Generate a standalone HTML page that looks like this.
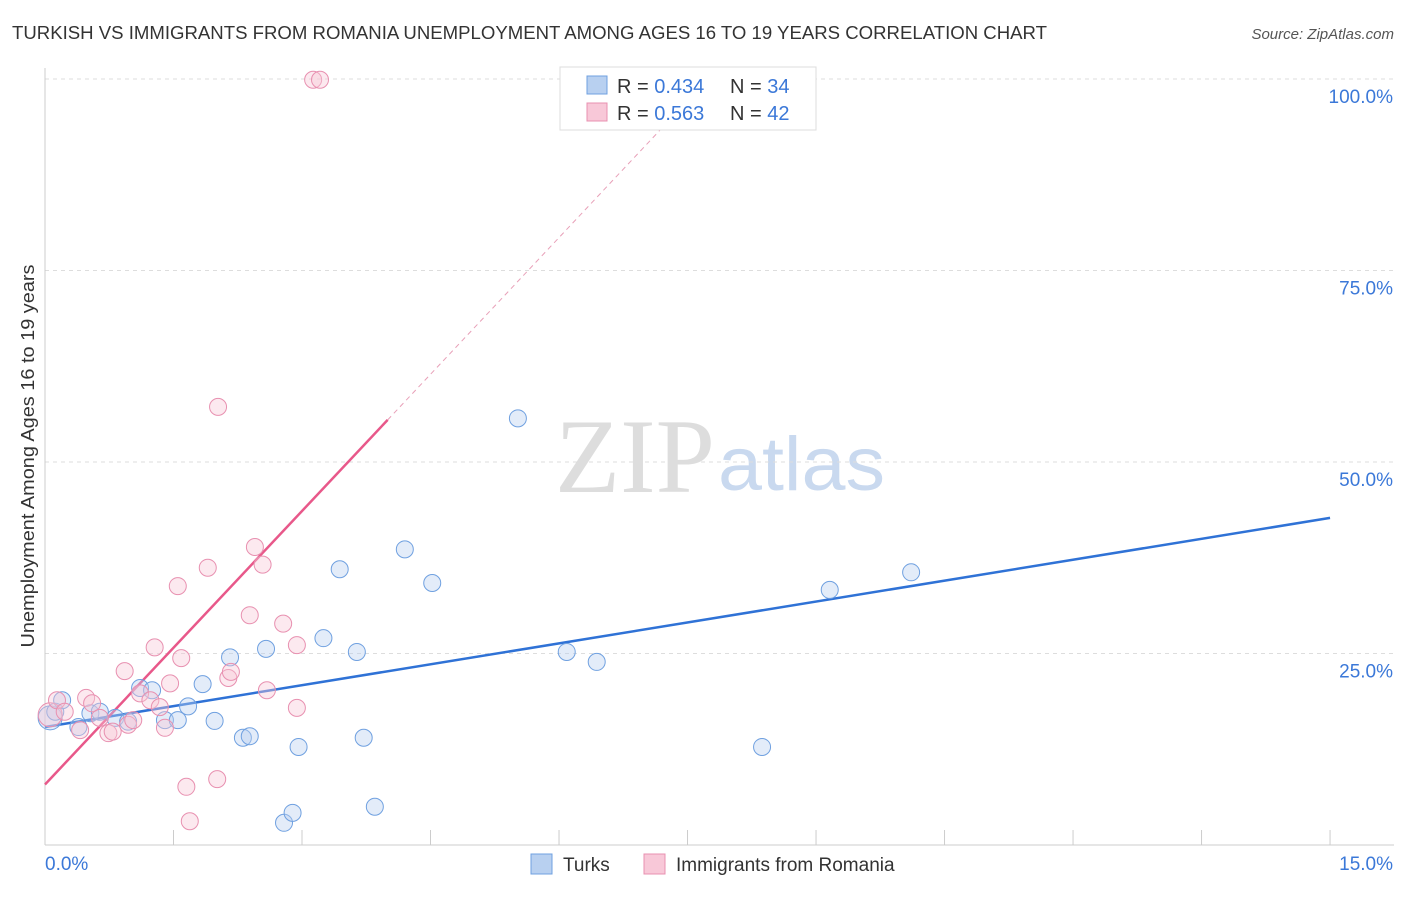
<!DOCTYPE html>
<html><head><meta charset="utf-8"><style>
body{margin:0;background:#fff;font-family:"Liberation Sans",sans-serif;}
</style></head><body>
<svg width="1406" height="892" font-family="Liberation Sans, sans-serif">
<text x="12" y="39" font-size="18" fill="#333" textLength="1035" lengthAdjust="spacingAndGlyphs">TURKISH VS IMMIGRANTS FROM ROMANIA UNEMPLOYMENT AMONG AGES 16 TO 19 YEARS CORRELATION CHART</text>
<text x="1394" y="39" font-size="15" fill="#555" font-style="italic" text-anchor="end">Source: ZipAtlas.com</text>
<text x="555" y="492" font-size="106" fill="#ddd" textLength="160" lengthAdjust="spacingAndGlyphs" font-family="Liberation Serif, serif">ZIP</text>
<text x="718" y="490" font-size="76" fill="#c9d9ef" textLength="167" lengthAdjust="spacingAndGlyphs">atlas</text>
<g id="grid"></g>
<g id="axes"></g>
<text transform="translate(34,456) rotate(-90)" font-size="18" fill="#333" text-anchor="middle" textLength="383" lengthAdjust="spacingAndGlyphs">Unemployment Among Ages 16 to 19 years</text>
<g id="lines"></g>
<g id="points"></g>
<g>
<rect x="560" y="67" width="256" height="63" fill="#fff" stroke="#ddd"/>
<rect x="587" y="76" width="20" height="18" fill="#b8d0f0" stroke="#6fa0e0"/>
<text x="617" y="93" font-size="20" fill="#333">R = <tspan fill="#3b78d8">0.434</tspan></text>
<text x="730" y="93" font-size="20" fill="#333">N = <tspan fill="#3b78d8">34</tspan></text>
<rect x="587" y="103" width="20" height="18" fill="#f8c8d8" stroke="#e890b0"/>
<text x="617" y="120" font-size="20" fill="#333">R = <tspan fill="#3b78d8">0.563</tspan></text>
<text x="730" y="120" font-size="20" fill="#333">N = <tspan fill="#3b78d8">42</tspan></text>
</g>
<g>
<rect x="531" y="854" width="21" height="20" fill="#b8d0f0" stroke="#6fa0e0"/>
<text x="563" y="871" font-size="19" fill="#333">Turks</text>
<rect x="644" y="854" width="21" height="20" fill="#f8c8d8" stroke="#e890b0"/>
<text x="676" y="871" font-size="19" fill="#333">Immigrants from Romania</text>
</g>
</svg>
<script>
const xTicks=[0,1.5,3,4.5,6,7.5,9,10.5,12,13.5,15];
const yTicks=[25,50,75,100];
const yTickLabels=["25.0%","50.0%","75.0%","100.0%"];
const turksX=[0.06,0.12,0.2,0.39,0.53,0.64,0.82,0.97,1.11,1.25,1.4,1.55,1.67,1.84,1.98,2.16,2.31,2.39,2.58,2.79,2.89,2.96,3.25,3.44,3.64,3.72,3.85,4.2,4.52,5.52,6.09,6.44,8.37,9.16,10.11];
const turksY=[16.6,17.4,18.9,15.4,17.2,17.4,16.6,16.1,20.5,20.2,16.3,16.3,18.1,21.0,16.2,24.5,14.0,14.2,25.6,2.9,4.2,12.8,27.0,36.0,25.2,14.0,5.0,38.6,34.2,55.7,25.2,23.9,12.8,33.3,35.6];
const romX=[0.06,0.14,0.23,0.41,0.48,0.55,0.64,0.74,0.79,0.93,0.97,1.03,1.11,1.23,1.28,1.34,1.4,1.46,1.55,1.59,1.65,1.69,1.9,2.01,2.02,2.14,2.17,2.39,2.45,2.54,2.59,2.78,2.94,2.94,3.13,3.21];
const romY=[17.0,18.9,17.4,15.0,19.2,18.5,16.6,14.6,14.8,22.7,15.7,16.3,19.8,18.9,25.8,18.0,15.3,21.1,33.8,24.4,7.6,3.1,36.2,8.6,57.2,21.8,22.6,30.0,38.9,36.6,20.2,28.9,26.1,17.9,99.9,99.9];
const blueFit=[15.4,1.82];
const pinkFit=[7.9,11.9];
const NS="http://www.w3.org/2000/svg";
const X=v=>45+v*85.67, Y=v=>845-v*7.66;
function mk(t,a,p){const e=document.createElementNS(NS,t);for(const k in a)e.setAttribute(k,a[k]);p.appendChild(e);return e;}
const grid=document.getElementById('grid'),axes=document.getElementById('axes'),lines=document.getElementById('lines'),pts=document.getElementById('points');
yTicks.forEach((v,i)=>{
 const l=mk('line',{x1:45,x2:1394,y1:Y(v),y2:Y(v),stroke:'#ddd','stroke-dasharray':'4,4'},grid);
 
 
 const t=mk('text',{x:1393,y:Y(v)+24,'font-size':19,fill:'#3b78d8','text-anchor':'end'},axes);
 t.textContent=yTickLabels[i];
 
 
});
mk('line',{x1:45,x2:1394,y1:845,y2:845,stroke:'#ccc'},axes);
mk('line',{x1:45,x2:45,y1:68,y2:845,stroke:'#ccc'},axes);
xTicks.forEach(v=>{const l=mk('line',{x1:X(v),x2:X(v),y1:830,y2:845,stroke:'#ccc'},axes);
 
 });
const t0=mk('text',{x:45,y:870,'font-size':19,fill:'#3b78d8'},axes);t0.textContent='0.0%';


const t1=mk('text',{x:1393,y:870,'font-size':19,fill:'#3b78d8','text-anchor':'end'},axes);t1.textContent='15.0%';


function draw(xs,ys,fill,stroke,name){xs.forEach((x,i)=>{const c=mk('circle',{cx:X(x),cy:Y(ys[i]),r:i==0?12:8.5,fill:fill,'fill-opacity':0.4,stroke:stroke,'stroke-width':1},pts);
 
 });}
draw(turksX,turksY,'#b8d0f0','#6fa0e0','turks-point');
draw(romX,romY,'#f8c8d8','#e890b0','romania-point');
const bl=mk('line',{x1:X(0),y1:Y(blueFit[0]),x2:X(15),y2:Y(blueFit[0]+blueFit[1]*15),stroke:'#2f72d6','stroke-width':2.5},lines);


const pe=4.0,pd=(100-pinkFit[0])/pinkFit[1];
const pl=mk('line',{x1:X(0),y1:Y(pinkFit[0]),x2:X(pe),y2:Y(pinkFit[0]+pinkFit[1]*pe),stroke:'#e8588a','stroke-width':2.5},lines);


const pdl=mk('line',{x1:X(pe),y1:Y(pinkFit[0]+pinkFit[1]*pe),x2:X(pd),y2:Y(100),stroke:'#e8a0b8','stroke-width':1,'stroke-dasharray':'5,4'},lines);


</script>
</body></html>
